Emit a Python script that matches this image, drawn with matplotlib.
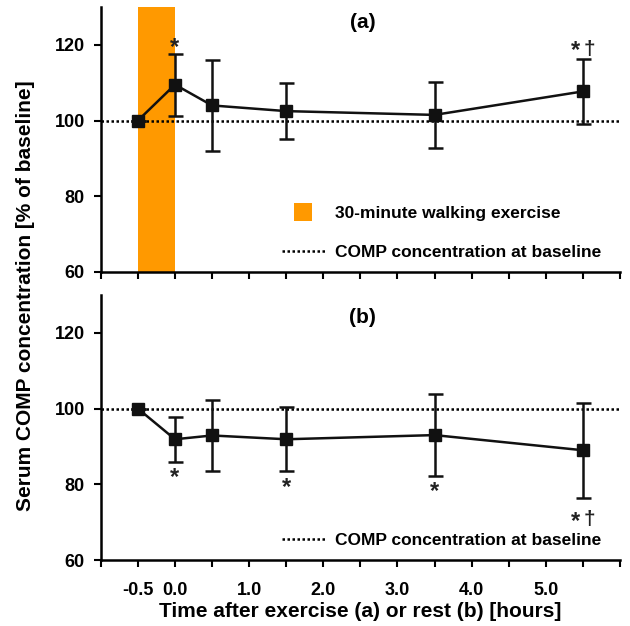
import numpy as np
import matplotlib.pyplot as plt
from matplotlib.lines import Line2D

plt.rcParams['font.family'] = ['Liberation Sans', 'DejaVu Sans']
plt.rcParams['font.weight'] = 'bold'

# time points [hours]
hours = [-0.5, 0.0, 0.5, 1.5, 3.5, 5.5]

# (a) exercise
mean_a = [100.0, 109.5, 104.0, 102.5, 101.5, 107.7]
sd_a = [0.0, 8.2, 12.0, 7.4, 8.8, 8.6]
marks_a = ['', '*', '', '', '', '*†']

# (b) rest
mean_b = [100.0, 91.9, 92.9, 91.9, 93.0, 89.0]
sd_b = [0.0, 5.9, 9.4, 8.5, 10.8, 12.6]
marks_b = ['', '*', '', '*', '*', '*†']

exercise_span = (-0.5, 0.0)
xtick_labels = ['-0.5', '0.0', '1.0', '2.0', '3.0', '4.0', '5.0']
xtick_pos = [-0.5, 0.0, 1.0, 2.0, 3.0, 4.0, 5.0]

fig = plt.figure(figsize=(6.3, 6.26), dpi=100)
ax_a = fig.add_axes([0.160, 0.5655, 0.824, 0.4233])
ax_b = fig.add_axes([0.160, 0.1054, 0.824, 0.4233])

orange = '#FF9900'
PX = 72.0 / 100  # points per pixel

# ink centre of the glyphs above their baseline, in px
ASTER_C = 10.3
DAG_C = 8.7


def put_marks(ax, x, y, text, above):
    # asterisk (and dagger) next to the error-bar cap
    if text == '*':
        off = 10 if above else -12
        ax.annotate('*', (x, y), xytext=(0, (off - ASTER_C) * PX),
                    textcoords='offset points', ha='center', va='baseline',
                    fontsize=17, fontweight='bold', color='#222222')
    else:
        off_a = 12.5 if above else -19.5
        off_d = 13 if above else -18.5
        ax.annotate('*', (x, y), xytext=(-7 * PX, (off_a - ASTER_C) * PX),
                    textcoords='offset points', ha='center', va='baseline',
                    fontsize=17, fontweight='bold', color='#222222')
        ax.annotate('†', (x, y), xytext=(6.5 * PX, (off_d - DAG_C) * PX),
                    textcoords='offset points', ha='center', va='baseline',
                    fontsize=15, fontweight='bold', color='#222222')


def draw_panel(ax, mean, sd, marks, above, label, label_y):
    ax.axhline(100, color='black', ls=(0, (1, 1)), lw=1.8, zorder=1)
    ax.errorbar(hours, mean, yerr=sd, color='#111111', lw=1.8, marker='s',
                ms=9, capsize=5.4, capthick=1.8, elinewidth=1.8, zorder=3)
    for x, m, s, t in zip(hours, mean, sd, marks):
        if t:
            put_marks(ax, x, m + s if above else m - s, t, above)
    ax.set_xlim(-1.0, 6.0)
    ax.set_ylim(60, 130)
    ax.set_yticks([60, 80, 100, 120])
    ax.set_xticks(np.arange(-1.0, 6.01, 0.5))
    for sp in ['top', 'right']:
        ax.spines[sp].set_visible(False)
    for sp in ['left', 'bottom']:
        ax.spines[sp].set_linewidth(1.8)
    ax.tick_params(width=1.5, length=5, labelsize=13)
    ax.tick_params(axis='x', pad=11)
    ax.tick_params(axis='y', pad=6.5)
    ax.text(2.53, label_y, label, ha='center', va='center', fontsize=15,
            fontweight='bold')


draw_panel(ax_a, mean_a, sd_a, marks_a, True, '(a)', 126.0)
draw_panel(ax_b, mean_b, sd_b, marks_b, False, '(b)', 124.0)

ax_a.axvspan(*exercise_span, color=orange, lw=0, zorder=0)
ax_a.set_xticklabels([])

labels_b = []
for t in np.arange(-1.0, 6.01, 0.5):
    lab = ''
    for p, l in zip(xtick_pos, xtick_labels):
        if abs(p - t) < 1e-9:
            lab = l
    labels_b.append(lab)
ax_b.set_xticklabels(labels_b)

base_handle = Line2D([], [], color='black', ls=(0, (1, 1)), lw=1.8)
ex_handle = Line2D([], [], color=orange, marker='s', ms=13, ls='none',
                   markeredgewidth=0)
ax_a.legend([ex_handle, base_handle],
            ['30-minute walking exercise', 'COMP concentration at baseline'],
            loc='lower right', bbox_to_anchor=(0.9865, 0.0), frameon=False,
            fontsize=12.5, handlelength=2.5, handletextpad=0.55,
            labelspacing=1.35, borderaxespad=0.3)
ax_b.legend([base_handle], ['COMP concentration at baseline'],
            loc='lower right', bbox_to_anchor=(0.9865, 0.0), frameon=False,
            fontsize=12.5, handlelength=2.5, handletextpad=0.55,
            borderaxespad=0.3)

fig.text(0.040, 0.527, 'Serum COMP concentration [% of baseline]',
         rotation=90, ha='center', va='center', fontsize=15, fontweight='bold')
ax_b.set_xlabel('Time after exercise (a) or rest (b) [hours]', fontsize=15,
                fontweight='bold', labelpad=2)

fig.savefig('out.png', dpi=100)
